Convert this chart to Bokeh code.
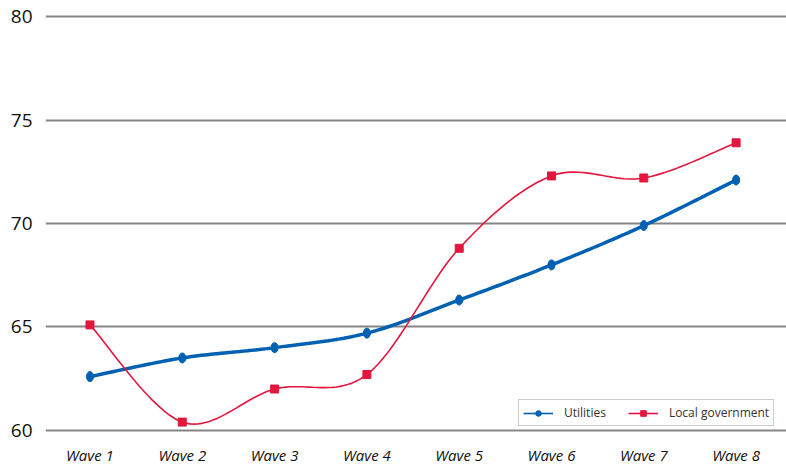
from bokeh.plotting import figure
from bokeh.models import Range1d, FixedTicker, Legend, LegendItem
from bokeh.embed import file_html
from bokeh.resources import INLINE

# Survey waves and scores for each sector
waves = ["Wave 1", "Wave 2", "Wave 3", "Wave 4", "Wave 5", "Wave 6", "Wave 7", "Wave 8"]
utilities = [62.6, 63.5, 64.0, 64.7, 66.3, 68.0, 69.9, 72.1]
local_government = [65.1, 60.4, 62.0, 62.7, 68.8, 72.3, 72.2, 73.9]
y_ticks = [60, 65, 70, 75, 80]

BLUE = "#0061b2"
RED = "#e3173e"
FONT = "Open Sans"


def smooth(xs, ys, steps=24):
    """Catmull-Rom style Bezier smoothing through every point."""
    n = len(xs)
    px, py = [], []
    for i in range(n - 1):
        x0, y0 = (xs[i - 1], ys[i - 1]) if i > 0 else (xs[i], ys[i])
        x1, y1 = xs[i], ys[i]
        x2, y2 = xs[i + 1], ys[i + 1]
        x3, y3 = (xs[i + 2], ys[i + 2]) if i + 2 < n else (x2, y2)
        c1x, c1y = x1 + (x2 - x0) / 6.0, y1 + (y2 - y0) / 6.0
        c2x, c2y = x2 - (x3 - x1) / 6.0, y2 - (y3 - y1) / 6.0
        for k in range(steps + (1 if i == n - 2 else 0)):
            t = k / steps
            a, b, c, d = (1 - t) ** 3, 3 * (1 - t) ** 2 * t, 3 * (1 - t) * t ** 2, t ** 3
            px.append(a * x1 + b * c1x + c * c2x + d * x2)
            py.append(a * y1 + b * c1y + c * c2y + d * y2)
    return px, py


xs = list(range(1, len(waves) + 1))

p = figure(
    width=786, height=467,
    x_range=Range1d(0.518, 8.546), y_range=Range1d(59.85, 80.15),
    output_backend="svg", toolbar_location=None,
    min_border_left=45, min_border_right=0, min_border_top=13, min_border_bottom=32,
    background_fill_color="white", border_fill_color="white",
)
p.outline_line_color = None

# Axes: labels only, the grid carries the lines
p.yaxis.ticker = FixedTicker(ticks=y_ticks)
p.xaxis.ticker = FixedTicker(ticks=xs)
p.xaxis.major_label_overrides = {x: w for x, w in zip(xs, waves)}
for ax in (p.xaxis[0], p.yaxis[0]):
    ax.axis_line_color = None
    ax.major_tick_line_color = None
    ax.minor_tick_line_color = None
    ax.major_tick_out = 0
    ax.major_tick_in = 0
    ax.minor_tick_out = 0
    ax.major_label_text_font = FONT
    ax.major_label_text_color = "#111111"
p.yaxis.major_label_text_font_size = "19px"
p.yaxis.major_label_standoff = 13
p.xaxis.major_label_text_font_size = "15px"
p.xaxis.major_label_text_font_style = "italic"
p.xaxis.major_label_standoff = 11

p.xgrid.grid_line_color = None
p.ygrid.ticker = FixedTicker(ticks=y_ticks)
p.ygrid.grid_line_color = "#858585"
p.ygrid.grid_line_width = 2

# Utilities: thick blue smoothed line with oval markers
ux, uy = smooth(xs, utilities)
p.line(ux, uy, line_color=BLUE, line_width=3.5)
p.ellipse(xs, utilities, width=7, height=10, width_units="screen", height_units="screen",
          fill_color=BLUE, line_color=BLUE)

# Local government: thin red smoothed line with square markers
gx, gy = smooth(xs, local_government)
p.line(gx, gy, line_color=RED, line_width=1.6)
p.scatter(xs, local_government, marker="square", size=8, fill_color=RED, line_color=RED)

# Legend glyphs
lu_l = p.line([0], [0], line_color=BLUE, line_width=1.6, visible=False)
lu_m = p.scatter([0], [0], marker="circle", size=7, fill_color=BLUE, line_color=BLUE, visible=False)
lg_l = p.line([0], [0], line_color=RED, line_width=1.6, visible=False)
lg_m = p.scatter([0], [0], marker="square", size=6, fill_color=RED, line_color=RED, visible=False)

legend = Legend(
    items=[LegendItem(label="Utilities", renderers=[lu_l, lu_m]),
           LegendItem(label="Local government", renderers=[lg_l, lg_m])],
    orientation="horizontal", location=(473, 7),
    glyph_width=30, glyph_height=14, label_height=14, label_standoff=11,
    spacing=22, padding=4, margin=0,
    label_text_font=FONT, label_text_font_size="12px", label_text_color="#333333",
    border_line_color="#9a9a9a", border_line_width=1, background_fill_alpha=1,
)
p.add_layout(legend)

open("out.html", "w").write(file_html(p, INLINE))
